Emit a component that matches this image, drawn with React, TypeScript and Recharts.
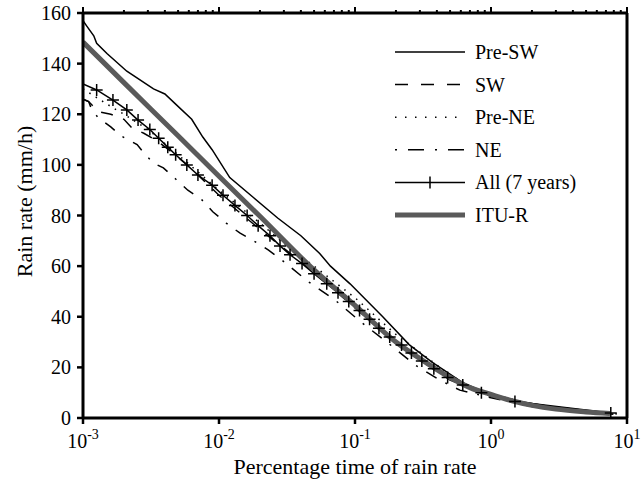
import React from 'react';
import { LineChart, Line, XAxis, YAxis } from 'recharts';

const FONT = "'Liberation Serif', 'Times New Roman', Times, serif";

// Axis ticks
const xTicks = [0.001, 0.01, 0.1, 1, 10];
const xTickExps = ['-3', '-2', '-1', '0', '1'];
const xMinorTicks = [
  0.002, 0.003, 0.004, 0.005, 0.006, 0.007, 0.008, 0.009,
  0.02, 0.03, 0.04, 0.05, 0.06, 0.07, 0.08, 0.09,
  0.2, 0.3, 0.4, 0.5, 0.6, 0.7, 0.8, 0.9,
  2, 3, 4, 5, 6, 7, 8, 9,
];
const yTicks = [0, 20, 40, 60, 80, 100, 120, 140, 160];

// Series: percentage time (x) and rain rate mm/h (y)
const preSwX = [0.001, 0.00106, 0.0012, 0.00126, 0.0015, 0.0021, 0.0033, 0.004, 0.0048, 0.0063, 0.0076, 0.0089, 0.012, 0.018, 0.027, 0.04, 0.055, 0.066, 0.092, 0.16, 0.25, 0.37, 0.62, 0.83, 1.45, 2.7, 7.5];
const preSwY = [157, 155, 151, 148, 144, 137, 130, 128, 124, 118, 111, 106, 95, 87, 79, 72, 65, 60, 53, 40, 29, 22, 14, 11, 7, 4.5, 2];

const swX = [0.001, 0.0011, 0.0013, 0.0016, 0.002, 0.0023, 0.0028, 0.0035, 0.0045, 0.006, 0.01, 0.02, 0.03, 0.05, 0.1, 0.2, 0.3, 0.5, 1, 2, 5, 8];
const swY = [126, 125, 121, 120, 118, 114.5, 112.5, 109.5, 105, 99.5, 88, 74.5, 67, 57.5, 43.5, 29.5, 23, 15, 8.5, 4.5, 2.2, 1.5];

const preNeX = [0.001, 0.0015, 0.002, 0.003, 0.005, 0.01, 0.02, 0.03, 0.05, 0.1, 0.2, 0.3, 0.5, 0.7, 1, 2, 4, 9];
const preNeY = [130, 124, 120, 114, 104, 90, 77, 69, 60, 47.5, 33, 26, 17, 12.5, 9.5, 5.5, 3, 1.5];

const neX = [0.001, 0.0011, 0.00116, 0.0013, 0.0016, 0.0019, 0.0025, 0.0028, 0.0033, 0.0039, 0.0048, 0.0059, 0.0074, 0.009, 0.0113, 0.0143, 0.018, 0.023, 0.029, 0.045, 0.072, 0.11, 0.178, 0.276, 0.42, 0.59, 1, 2, 8];
const neY = [126, 125, 121.7, 118.5, 115, 111.5, 108, 104.7, 100.7, 98.8, 94.4, 90, 86.5, 81.5, 77, 73, 70, 66.4, 62.4, 54, 46.4, 38, 29.3, 21, 15, 11, 8, 4.5, 1.5];

const allX = [0.001, 0.00126, 0.00166, 0.0021, 0.00254, 0.0031, 0.0036, 0.0042, 0.0048, 0.0058, 0.007, 0.0089, 0.0107, 0.0131, 0.0161, 0.0194, 0.0237, 0.0281, 0.0333, 0.0408, 0.05, 0.062, 0.075, 0.09, 0.108, 0.128, 0.15, 0.18, 0.22, 0.26, 0.31, 0.38, 0.48, 0.62, 0.85, 1.5, 7.6];
const allY = [132, 129.6, 125.6, 121.7, 117.7, 114, 110.5, 107, 104, 100, 96, 92, 88, 84, 80, 76, 72, 68, 64.5, 61, 57, 53, 49.5, 46, 42.5, 39, 35.5, 32, 28.8, 25.7, 22.5, 19.5, 16, 13, 10, 6.5, 2];

const ituX = [0.001, 0.002, 0.005, 0.01, 0.02, 0.05, 0.1, 0.2, 0.3, 0.5, 0.7, 1, 1.5, 2, 3, 5, 7.5];
const ituY = [148.5, 132.5, 111.5, 95.5, 79.7, 58.5, 44.5, 30, 23.5, 16, 12, 9.3, 6.5, 5, 3.5, 2.4, 1.8];

const zip = (xs: number[], ys: number[]) => xs.map((x, i) => ({ x, y: ys[i] }));

const preSwData = zip(preSwX, preSwY);
const swData = zip(swX, swY);
const preNeData = zip(preNeX, preNeY);
const neData = zip(neX, neY);
const allData = zip(allX, allY);
const ituData = zip(ituX, ituY);

const ITU_GRAY = '#5a5a5a';

const legendRows = [
  { name: 'Pre-SW', stroke: '#000', width: 1.5, dash: undefined as string | undefined, plus: false },
  { name: 'SW', stroke: '#000', width: 1.5, dash: '13 13', plus: false },
  { name: 'Pre-NE', stroke: '#000', width: 1.5, dash: '1.5 8.5', plus: false },
  { name: 'NE', stroke: '#000', width: 1.5, dash: '2 11 16 11', plus: false },
  { name: 'All (7 years)', stroke: '#000', width: 1.5, dash: undefined, plus: true },
  { name: 'ITU-R', stroke: ITU_GRAY, width: 5, dash: undefined, plus: false },
];

const LegendBox = () => (
  <svg width={220} height={200} style={{ position: 'absolute', left: 390, top: 36, overflow: 'visible' }}>
    {legendRows.map((r, i) => {
      const y = 16 + i * 32.6;
      return (
        <g key={r.name}>
          <line x1={5} x2={75} y1={y} y2={y} stroke={r.stroke} strokeWidth={r.width} strokeDasharray={r.dash} />
          {r.plus && <path d={`M40,${y - 6}V${y + 6}`} stroke="#000" strokeWidth={1.5} />}
          <text x={85} y={y + 7} fontFamily={FONT} fontSize={20} fill="#000">{r.name}</text>
        </g>
      );
    })}
  </svg>
);

const BottomTick = (props: any) => {
  const { x, y, payload } = props;
  const idx = xTicks.findIndex((t) => Math.abs(t - payload.value) < payload.value * 1e-6);
  const exp = idx >= 0 ? xTickExps[idx] : '';
  return (
    <text x={x} y={y + 22} textAnchor="middle" fontFamily={FONT} fontSize={20} fill="#000">
      10<tspan dy={-9} fontSize={14}>{exp}</tspan>
    </text>
  );
};

const TopTick = (props: any) => {
  const { x, y, payload } = props;
  const major = xTicks.some((t) => Math.abs(t - payload.value) < payload.value * 1e-6);
  const len = major ? 6 : 3;
  return <line x1={x} x2={x} y1={y} y2={y - len} stroke="#000" strokeWidth={2} />;
};

const PlusDot = (props: any) => {
  const { cx, cy, index } = props;
  if (index === 0 || cx == null || cy == null) return <g key={`d${index}`} />;
  return (
    <path
      key={`d${index}`}
      d={`M${cx - 6},${cy}H${cx + 6}M${cx},${cy - 6}V${cy + 6}`}
      stroke="#000"
      strokeWidth={1.5}
      fill="none"
    />
  );
};

const XTitle = (props: any) => {
  const vb = props.viewBox || { x: 83, y: 418, width: 544, height: 65 };
  return (
    <text x={vb.x + vb.width / 2} y={vb.y + 56} textAnchor="middle" fontFamily={FONT} fontSize={22} fill="#000">
      Percentage time of rain rate
    </text>
  );
};

const YTitle = (props: any) => {
  const vb = props.viewBox || { x: 0, y: 13, width: 83, height: 405 };
  const cx = vb.x + 32;
  const cy = vb.y + vb.height / 2 - 14;
  return (
    <text x={cx} y={cy} transform={`rotate(-90 ${cx} ${cy})`} textAnchor="middle" fontFamily={FONT} fontSize={22} fill="#000">
      Rain rate (mm/h)
    </text>
  );
};

export default function App() {
  return (
    <div style={{ position: 'absolute', left: 0, top: 0, width: 644, height: 483, background: '#fff' }}>
      <LineChart width={644} height={483} margin={{ top: 0, right: 0, bottom: 0, left: 0 }}>
        <XAxis
          xAxisId="b"
          dataKey="x"
          type="number"
          scale="log"
          domain={[0.001, 10]}
          allowDataOverflow
          ticks={xTicks}
          height={65}
          axisLine={{ stroke: '#000', strokeWidth: 3 }}
          tickLine={{ stroke: '#000', strokeWidth: 2.5 }}
          tickSize={6}
          tickMargin={2}
          tick={<BottomTick />}
          label={<XTitle />}
        />
        <XAxis
          xAxisId="t"
          orientation="top"
          dataKey="x"
          type="number"
          scale="log"
          domain={[0.001, 10]}
          allowDataOverflow
          ticks={[...xTicks, ...xMinorTicks]}
          height={13}
          axisLine={{ stroke: '#000', strokeWidth: 3 }}
          tickLine={false}
          tickSize={0}
          tickMargin={0}
          tick={<TopTick />}
          interval={0}
        />
        <YAxis
          yAxisId="l"
          dataKey="y"
          type="number"
          domain={[0, 160]}
          ticks={yTicks}
          width={83}
          axisLine={{ stroke: '#000', strokeWidth: 3 }}
          tickLine={{ stroke: '#000', strokeWidth: 2.5 }}
          tickSize={6}
          tickMargin={6}
          interval={0}
          tick={{ fontFamily: FONT, fontSize: 20, fill: '#000' }}
          label={<YTitle />}
        />
        <YAxis
          yAxisId="r"
          orientation="right"
          type="number"
          domain={[0, 160]}
          ticks={yTicks}
          width={17}
          axisLine={{ stroke: '#000', strokeWidth: 3 }}
          tickLine={{ stroke: '#000', strokeWidth: 2.5 }}
          tickSize={5}
          interval={0}
          tick={false}
        />
        <Line xAxisId="b" yAxisId="l" data={preSwData} dataKey="y" name="Pre-SW" stroke="#000" strokeWidth={1.5} dot={false} type="linear" isAnimationActive={false} />
        <Line xAxisId="b" yAxisId="l" data={swData} dataKey="y" name="SW" stroke="#000" strokeWidth={1.5} strokeDasharray="12 11" dot={false} type="linear" isAnimationActive={false} />
        <Line xAxisId="b" yAxisId="l" data={preNeData} dataKey="y" name="Pre-NE" stroke="#000" strokeWidth={1.5} strokeDasharray="1.5 6" dot={false} type="linear" isAnimationActive={false} />
        <Line xAxisId="b" yAxisId="l" data={neData} dataKey="y" name="NE" stroke="#000" strokeWidth={1.5} strokeDasharray="12 10 2 10" dot={false} type="linear" isAnimationActive={false} />
        <Line xAxisId="b" yAxisId="l" data={allData} dataKey="y" name="All (7 years)" stroke="#000" strokeWidth={1.5} dot={<PlusDot />} activeDot={false} type="linear" isAnimationActive={false} />
        <Line xAxisId="b" yAxisId="l" data={ituData} dataKey="y" name="ITU-R" stroke={ITU_GRAY} strokeWidth={5} dot={false} type="monotone" isAnimationActive={false} />
      </LineChart>
      <LegendBox />
    </div>
  );
}
